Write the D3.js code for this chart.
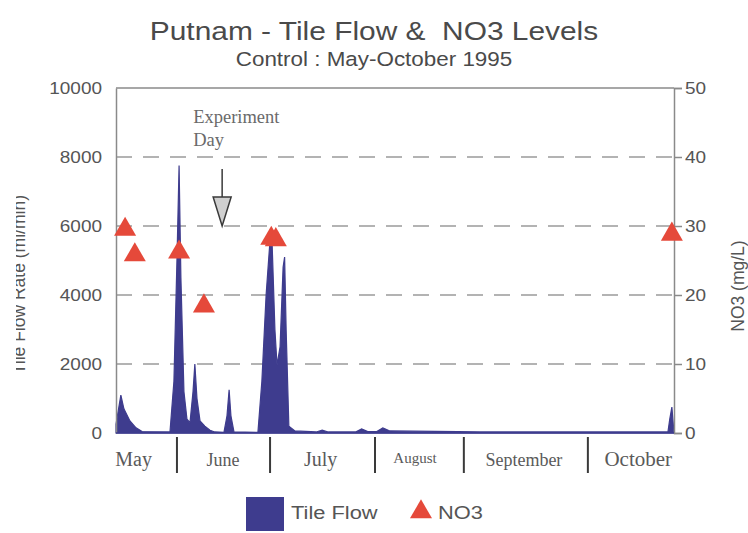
<!DOCTYPE html>
<html>
<head>
<meta charset="utf-8">
<script src="https://cdn.jsdelivr.net/npm/d3@7"></script>
<style>
  body { margin: 0; background: #fff; }
  svg { display: block; }
</style>
</head>
<body>
<svg id="chart"></svg>
<script>
// days counted from the start of the plotted period
const flowDays = [0, 1.6, 2.6, 4.6, 6.6, 8.6, 17.8, 19.1, 20.1, 20.8, 21.4, 22.4, 23.4, 24.4, 25.4, 26, 26.7, 27.7, 29.3, 31, 32.6,
  35.6, 36.6, 37.3, 37.9, 38.9, 46.8, 48.1, 49.5, 50.8, 51.4, 52.4, 53.1, 54.1, 55.1, 55.6, 56.1, 57, 59, 66, 68, 70,
  79, 81, 83, 86, 88, 90.3, 120, 150, 182, 182.6, 183.3, 184];
const flowValues = [250, 1100, 700, 350, 150, 40, 30, 1500, 5000, 7750, 4500, 1200, 400, 300, 1200, 2000, 1000, 350, 200, 80, 30,
  20, 500, 1250, 500, 30, 20, 1500, 4000, 5600, 5700, 3000, 1970, 2500, 4800, 5100, 3000, 200, 60, 30, 80, 30,
  30, 120, 40, 40, 150, 60, 30, 30, 30, 400, 750, 0];

const no3Days = [3, 6.2, 20.8, 29, 51.2, 52.7, 183.3];
const no3Values = [29.5, 25.8, 26.2, 18.4, 28.2, 28.0, 28.8];

const flowTicks = [0, 2000, 4000, 6000, 8000, 10000];
const no3Ticks = [0, 10, 20, 30, 40, 50];

const monthNames = ["May", "June", "July", "August", "September", "October"];
const monthLabelDays = [5.8, 35.3, 67.5, 98.6, 134.5, 172.2];
const monthBounds = [20.1, 50.8, 85.4, 114.7, 155.6];
const experimentDay = 35;

const width = 748, height = 533;
const margin = { top: 88, right: 74, bottom: 100, left: 116 };
const flowColor = "#3e3c8e";
const no3Color = "#e5493a";
const textColor = "#555";
const sans = "Liberation Sans, Arial, sans-serif";
const serif = "Liberation Serif, Times New Roman, serif";
const stretch = 1.15;   // the scan is a little wider than tall

const svg = d3.select("#chart").attr("width", width).attr("height", height);

const x = d3.scaleLinear().domain([0, 184]).range([margin.left, width - margin.right]);
const yFlow = d3.scaleLinear().domain([0, 10000]).range([height - margin.bottom, margin.top]);
const yNo3 = d3.scaleLinear().domain([0, 50]).range([height - margin.bottom, margin.top]);

function wideText(px, py, size, str, anchor) {
  return svg.append("text")
    .attr("transform", `translate(${px},${py}) scale(${stretch},1)`)
    .attr("text-anchor", anchor || "start")
    .attr("font-family", sans)
    .attr("font-size", size + "px")
    .attr("fill", textColor)
    .text(str);
}

// title
wideText(374, 40, 26, "Putnam - Tile Flow &\u00a0 NO3 Levels", "middle").attr("fill", "#4a4a4a");
wideText(374, 66, 19.5, "Control : May-October 1995", "middle").attr("fill", "#4a4a4a");

// gridlines
svg.append("g")
  .selectAll("line")
  .data(flowTicks.filter(d => d > 0 && d < 10000))
  .join("line")
  .attr("x1", x(0)).attr("x2", x(184))
  .attr("y1", d => yFlow(d)).attr("y2", d => yFlow(d))
  .attr("stroke", "#9a9a9a")
  .attr("stroke-width", 1.5)
  .attr("stroke-dasharray", "16,11");

// tile flow area
const area = d3.area()
  .x((d, i) => x(flowDays[i]))
  .y0(yFlow(0))
  .y1(d => yFlow(d));

svg.append("path")
  .datum(flowValues)
  .attr("d", area)
  .attr("fill", flowColor)
  .attr("stroke", flowColor)
  .attr("stroke-width", 1.2);

// frame
svg.append("line")
  .attr("x1", x(0)).attr("x2", x(184))
  .attr("y1", yFlow(10000)).attr("y2", yFlow(10000))
  .attr("stroke", "#8a8a8a").attr("stroke-width", 1.5);

// left axis
const leftAxis = svg.append("g")
  .attr("transform", `translate(${margin.left},0)`)
  .call(d3.axisLeft(yFlow).tickValues(flowTicks).tickFormat(d3.format("d")).tickSize(0).tickPadding(12.2));
leftAxis.select(".domain").attr("stroke", "#8a8a8a").attr("stroke-width", 1.5);
leftAxis.selectAll("text")
  .attr("transform", `scale(${stretch},1)`)
  .attr("font-family", sans)
  .attr("font-size", "16.5px")
  .attr("fill", textColor);

// right axis
const rightAxis = svg.append("g")
  .attr("transform", `translate(${width - margin.right},0)`)
  .call(d3.axisRight(yNo3).tickValues(no3Ticks).tickFormat(d3.format("d")).tickSize(8).tickPadding(1.5));
rightAxis.select(".domain").attr("stroke", "#8a8a8a").attr("stroke-width", 1.5);
rightAxis.selectAll(".tick line").attr("stroke", "#8a8a8a").attr("stroke-width", 1.5);
rightAxis.selectAll("text")
  .attr("transform", `scale(${stretch},1)`)
  .attr("font-family", sans)
  .attr("font-size", "16.5px")
  .attr("fill", textColor);

// bottom baseline
svg.append("line")
  .attr("x1", x(0)).attr("x2", x(184))
  .attr("y1", yFlow(0)).attr("y2", yFlow(0))
  .attr("stroke", flowColor).attr("stroke-width", 1.5);

// month separators and labels
svg.append("g")
  .selectAll("line")
  .data(monthBounds)
  .join("line")
  .attr("x1", d => x(d)).attr("x2", d => x(d))
  .attr("y1", yFlow(0) + 4).attr("y2", yFlow(0) + 40)
  .attr("stroke", "#3a3a3a").attr("stroke-width", 2);

const monthSize = { May: 20, June: 18, July: 20, August: 15, September: 18, October: 21 };
svg.append("g")
  .selectAll("text")
  .data(monthNames)
  .join("text")
  .attr("x", (d, i) => x(monthLabelDays[i]))
  .attr("y", d => d === "August" ? yFlow(0) + 30 : yFlow(0) + 33)
  .attr("text-anchor", "middle")
  .attr("font-family", serif)
  .attr("font-size", d => monthSize[d] + "px")
  .attr("fill", "#5a5a5a")
  .text(d => d);

// NO3 triangles
svg.append("g")
  .selectAll("path")
  .data(no3Values)
  .join("path")
  .attr("transform", (d, i) => `translate(${x(no3Days[i])},${yNo3(d)})`)
  .attr("d", d3.symbol().type(d3.symbolTriangle).size(210))
  .attr("fill", no3Color);

// experiment day annotation
const ax = x(experimentDay);
svg.append("text")
  .attr("x", ax - 29).attr("y", 123)
  .attr("font-family", serif)
  .attr("font-size", "18.5px")
  .attr("fill", "#6a6a6a")
  .text("Experiment");
svg.append("text")
  .attr("x", ax - 29).attr("y", 146)
  .attr("font-family", serif)
  .attr("font-size", "18.5px")
  .attr("fill", "#6a6a6a")
  .text("Day");
svg.append("line")
  .attr("x1", ax).attr("x2", ax)
  .attr("y1", 169).attr("y2", 197)
  .attr("stroke", "#3a3a3a").attr("stroke-width", 1.5);
svg.append("path")
  .attr("d", `M${ax - 9},197 L${ax + 9},197 L${ax},${yFlow(6000)} Z`)
  .attr("fill", "#d0d0d0")
  .attr("stroke", "#3a3a3a")
  .attr("stroke-width", 1.5);

// axis titles (left one is cut at the page edge, as in the scan)
svg.append("clipPath").attr("id", "leftclip")
  .append("rect").attr("x", 16).attr("y", 0).attr("width", 40).attr("height", height);
svg.append("g")
  .attr("clip-path", "url(#leftclip)")
  .append("text")
  .attr("transform", `translate(25,${yFlow(4300)}) rotate(-90)`)
  .attr("text-anchor", "middle")
  .attr("font-family", sans)
  .attr("font-size", "17.5px")
  .attr("fill", textColor)
  .text("Tile Flow Rate (ml/min)");

svg.append("text")
  .attr("transform", `translate(744,${yNo3(21.3)}) rotate(-90)`)
  .attr("text-anchor", "middle")
  .attr("font-family", sans)
  .attr("font-size", "17.5px")
  .attr("fill", textColor)
  .text("NO3 (mg/L)");

// legend
svg.append("rect")
  .attr("x", 246).attr("y", 497).attr("width", 38).attr("height", 34)
  .attr("fill", flowColor);
wideText(291, 519, 19, "Tile Flow");
svg.append("path")
  .attr("transform", "translate(421,512)")
  .attr("d", d3.symbol().type(d3.symbolTriangle).size(210))
  .attr("fill", no3Color);
wideText(438, 519, 19, "NO3");
</script>
</body>
</html>
